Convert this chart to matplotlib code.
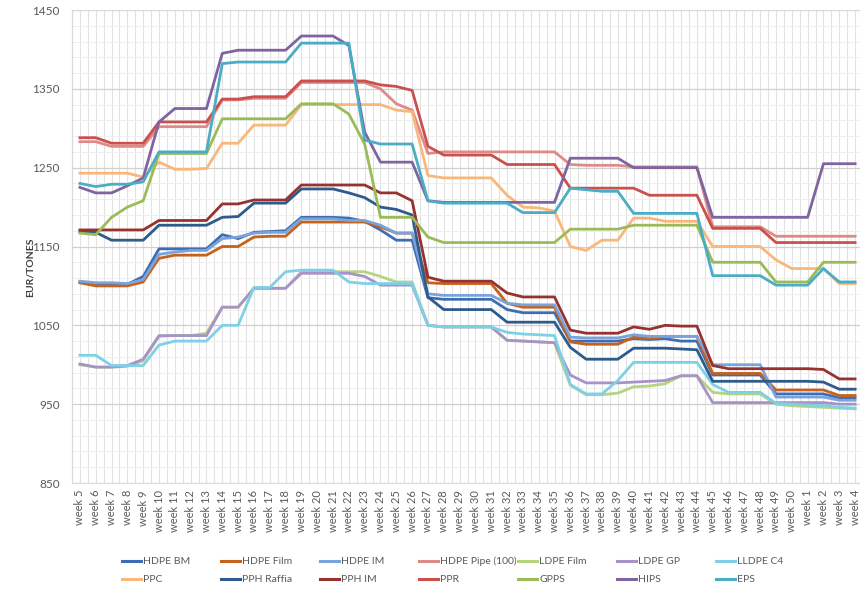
import numpy as np
import matplotlib
matplotlib.use("Agg")
import matplotlib.pyplot as plt
from matplotlib.lines import Line2D

plt.rcParams['font.family'] = ['Lato', 'DejaVu Sans']

# Week labels (week 5 .. week 50, then week 1 .. week 4 of next year)
weeks = [f"week {w}" for w in range(5, 51)] + [f"week {w}" for w in range(1, 5)]

# Prices in EUR/tones
hdpe_bm = [1105, 1103, 1103, 1102, 1112, 1147, 1147, 1147, 1147, 1165,
           1160, 1168, 1169, 1170, 1187, 1187, 1187, 1186, 1182, 1171,
           1158, 1158, 1085, 1083, 1083, 1083, 1083, 1070, 1066, 1066,
           1066, 1030, 1030, 1030, 1030, 1033, 1032, 1033, 1030, 1030,
           987, 987, 987, 987, 963, 963, 963, 963, 958, 958]
hdpe_film = [1104, 1100, 1100, 1100, 1105, 1135, 1139, 1139, 1139, 1150,
             1150, 1162, 1163, 1163, 1181, 1181, 1181, 1181, 1181, 1175,
             1167, 1167, 1104, 1103, 1103, 1103, 1103, 1078, 1073, 1073,
             1073, 1029, 1026, 1026, 1026, 1035, 1033, 1036, 1036, 1036,
             989, 989, 989, 989, 968, 968, 968, 968, 961, 961]
hdpe_im = [1106, 1104, 1104, 1103, 1108, 1140, 1143, 1145, 1145, 1160,
           1162, 1167, 1168, 1168, 1185, 1185, 1185, 1183, 1183, 1177,
           1167, 1167, 1090, 1088, 1088, 1088, 1088, 1078, 1076, 1076,
           1076, 1035, 1034, 1034, 1034, 1038, 1036, 1036, 1036, 1036,
           1000, 1000, 1000, 1000, 959, 959, 959, 959, 955, 955]
hdpe_pipe = [1283, 1283, 1277, 1277, 1277, 1302, 1302, 1302, 1302, 1336,
             1336, 1338, 1338, 1338, 1358, 1358, 1358, 1358, 1358, 1350,
             1331, 1323, 1268, 1270, 1270, 1270, 1270, 1270, 1270, 1270,
             1270, 1254, 1253, 1253, 1253, 1251, 1251, 1251, 1251, 1251,
             1175, 1175, 1175, 1175, 1163, 1163, 1163, 1163, 1163, 1163]
ldpe_film = [1000, 997, 997, 998, 1005, 1036, 1037, 1037, 1040, 1073,
             1073, 1097, 1097, 1097, 1118, 1118, 1118, 1118, 1118, 1112,
             1105, 1105, 1050, 1048, 1048, 1048, 1048, 1031, 1030, 1029,
             1028, 974, 962, 962, 964, 972, 973, 976, 986, 986,
             965, 963, 963, 963, 950, 948, 947, 946, 945, 944]
ldpe_gp = [1001, 997, 997, 999, 1007, 1037, 1037, 1037, 1037, 1073,
           1073, 1097, 1097, 1097, 1116, 1116, 1116, 1116, 1112, 1101,
           1101, 1101, 1050, 1048, 1048, 1048, 1048, 1031, 1030, 1029,
           1028, 987, 977, 977, 977, 978, 979, 980, 986, 986,
           952, 952, 952, 952, 952, 952, 952, 952, 950, 950]
lldpe_c4 = [1012, 1012, 999, 999, 999, 1025, 1030, 1030, 1030, 1050,
            1050, 1098, 1098, 1118, 1120, 1120, 1120, 1105, 1103, 1103,
            1103, 1103, 1050, 1048, 1048, 1048, 1048, 1041, 1039, 1038,
            1037, 975, 963, 963, 980, 1003, 1003, 1003, 1003, 1003,
            975, 965, 965, 965, 951, 950, 949, 948, 946, 945]
ppc = [1243, 1243, 1243, 1243, 1238, 1257, 1248, 1248, 1249, 1281,
       1281, 1304, 1304, 1304, 1330, 1330, 1330, 1330, 1330, 1330,
       1323, 1321, 1240, 1237, 1237, 1237, 1237, 1215, 1200, 1199,
       1195, 1150, 1145, 1158, 1158, 1186, 1186, 1182, 1182, 1182,
       1150, 1150, 1150, 1150, 1133, 1122, 1122, 1122, 1103, 1103]
pph_raffia = [1169, 1168, 1158, 1158, 1158, 1177, 1177, 1177, 1177, 1187,
              1188, 1205, 1205, 1205, 1223, 1223, 1223, 1218, 1212, 1200,
              1197, 1190, 1086, 1070, 1070, 1070, 1070, 1054, 1054, 1054,
              1054, 1022, 1007, 1007, 1007, 1021, 1021, 1021, 1020, 1019,
              979, 979, 979, 979, 979, 979, 979, 978, 969, 969]
pph_im = [1171, 1171, 1171, 1171, 1171, 1183, 1183, 1183, 1183, 1204,
          1204, 1209, 1209, 1209, 1228, 1228, 1228, 1228, 1228, 1218,
          1218, 1208, 1111, 1106, 1106, 1106, 1106, 1091, 1086, 1086,
          1086, 1044, 1040, 1040, 1040, 1048, 1045, 1050, 1049, 1049,
          999, 995, 995, 995, 995, 995, 995, 994, 982, 982]
ppr = [1288, 1288, 1281, 1281, 1281, 1308, 1308, 1308, 1308, 1337,
       1337, 1340, 1340, 1340, 1360, 1360, 1360, 1360, 1360, 1355,
       1353, 1348, 1277, 1266, 1266, 1266, 1266, 1254, 1254, 1254,
       1254, 1224, 1224, 1224, 1224, 1224, 1215, 1215, 1215, 1215,
       1173, 1173, 1173, 1173, 1155, 1155, 1155, 1155, 1155, 1155]
gpps = [1167, 1165, 1187, 1200, 1208, 1268, 1268, 1268, 1268, 1312,
        1312, 1312, 1312, 1312, 1331, 1331, 1331, 1318, 1280, 1187,
        1187, 1187, 1162, 1155, 1155, 1155, 1155, 1155, 1155, 1155,
        1155, 1172, 1172, 1172, 1172, 1177, 1177, 1177, 1177, 1177,
        1130, 1130, 1130, 1130, 1105, 1105, 1105, 1130, 1130, 1130]
hips = [1225, 1218, 1218, 1227, 1237, 1308, 1325, 1325, 1325, 1395,
        1399, 1399, 1399, 1399, 1417, 1417, 1417, 1405, 1295, 1257,
        1257, 1257, 1208, 1206, 1206, 1206, 1206, 1206, 1206, 1206,
        1206, 1262, 1262, 1262, 1262, 1250, 1250, 1250, 1250, 1250,
        1187, 1187, 1187, 1187, 1187, 1187, 1187, 1255, 1255, 1255]
eps = [1230, 1226, 1229, 1229, 1232, 1270, 1270, 1270, 1270, 1382,
       1384, 1384, 1384, 1384, 1408, 1408, 1408, 1408, 1285, 1280,
       1280, 1280, 1208, 1205, 1205, 1205, 1205, 1205, 1193, 1193,
       1193, 1224, 1222, 1220, 1220, 1192, 1192, 1192, 1192, 1192,
       1113, 1113, 1113, 1113, 1101, 1101, 1101, 1122, 1105, 1105]

names = ["HDPE BM", "HDPE Film", "HDPE IM", "HDPE Pipe (100)", "LDPE Film", "LDPE GP", "LLDPE C4",
         "PPC", "PPH Raffia", "PPH IM", "PPR", "GPPS", "HIPS", "EPS"]
series = [hdpe_bm, hdpe_film, hdpe_im, hdpe_pipe, ldpe_film, ldpe_gp, lldpe_c4,
          ppc, pph_raffia, pph_im, ppr, gpps, hips, eps]
colors = ["#3E6DB5", "#C5621B", "#7BA3DB", "#E08A87", "#B5D47E", "#A793C8", "#7ED0E6",
          "#F9B77A", "#2E5A8C", "#963230", "#C9504D", "#9BBB59", "#8064A2", "#4BACC6"]

W, H = 860, 596
fig = plt.figure(figsize=(W / 100, H / 100), dpi=100)
ax = fig.add_axes([72 / W, 113 / H, 791 / W, 473 / H])

x = np.arange(len(weeks))
for vals, c in zip(series, colors):
    ax.plot(x, vals, color=c, lw=2.0, solid_joinstyle="round", zorder=3)

ax.set_xlim(-0.5, len(weeks) - 0.5)
ax.set_ylim(850, 1450)
ax.set_yticks(np.arange(850, 1451, 100))
ax.set_yticks(np.arange(850, 1451, 20), minor=True)
ax.set_xticks(x)
ax.set_xticks(np.arange(-0.5, len(weeks), 1.0), minor=True)
ax.set_xticklabels(weeks, rotation=90, fontsize=8, color="#595959")
ax.tick_params(axis="y", labelsize=8.5, colors="#595959", length=0, pad=9)
ax.tick_params(axis="x", length=0, pad=5)
ax.tick_params(which="minor", length=0)

ax.grid(which="major", axis="y", color="#D0D0D0", lw=0.9, zorder=0)
ax.grid(which="minor", axis="y", color="#EFEFEF", lw=0.7, zorder=0)
ax.grid(which="both", axis="x", color="#E2E2E2", lw=0.8, zorder=0)
ax.set_axisbelow(True)
for s in ax.spines.values():
    s.set_color("#D9D9D9")
    s.set_linewidth(0.8)

fig.text(30 / W, 1 - 267 / H, "EUR/TONES", rotation=90, ha="center", va="center",
         fontsize=7.5, fontweight="bold", color="#404040")

# Legend: 2 rows x 7 evenly spaced columns, as in the original
for k, (name, c) in enumerate(zip(names, colors)):
    row, col = divmod(k, 7)
    lx = 122 + col * 99
    ly = 561 + row * 18
    fig.add_artist(Line2D([lx / W, (lx + 19) / W], [1 - ly / H, 1 - ly / H],
                          transform=fig.transFigure, color=c, lw=2.2))
    fig.text((lx + 21) / W, 1 - ly / H, name, fontsize=7.5, color="#595959",
             ha="left", va="center")

fig.savefig("out.png", dpi=100)
